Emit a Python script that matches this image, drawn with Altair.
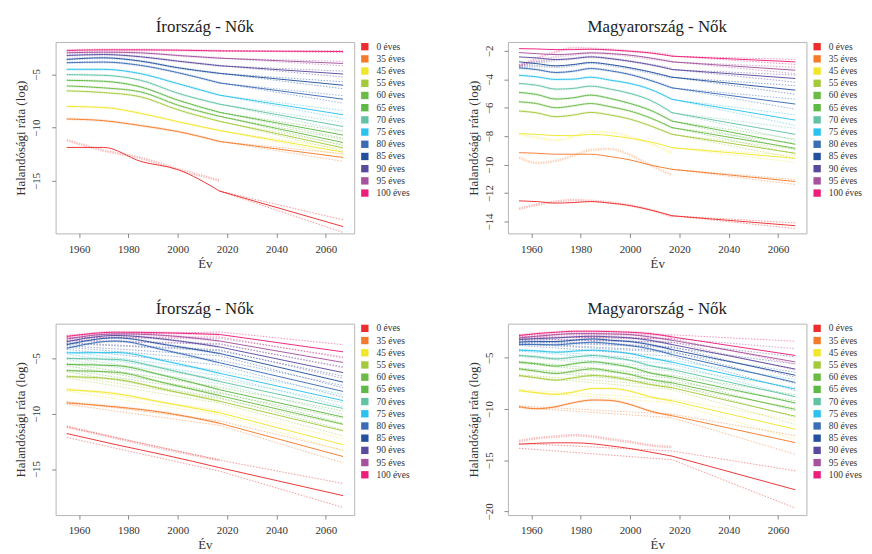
import altair as alt
import pandas as pd

AGES = ["0 éves", "35 éves", "45 éves", "55 éves", "60 éves", "65 éves", "70 éves",
        "75 éves", "80 éves", "85 éves", "90 éves", "95 éves", "100 éves"]
COLORS = ["#ED2D2E", "#F47B2B", "#F2E62B", "#A4CA3C", "#6DBB47", "#5FB946", "#62C3A4",
          "#2BC2EE", "#3B6CB5", "#23519E", "#5A4A9E", "#A5529F", "#EC1E79"]

X_DOMAIN = [1950.5, 2071.5]
X_TICKS = [1960, 1980, 2000, 2020, 2040, 2060]
SPLIT_YEAR = 2017

# ---------------- Panel 1: Írország - Nők (top) ----------------
P1_TITLE = "Írország - Nők"
P1_YDOMAIN = [-19.93, -1.96]
P1_YTICKS = [-15, -10, -5]
P1_YEARS = [1955, 1970, 1985, 2000, 2017, 2067]
P1_MAIN = [
    [-11.86, -11.86, -13.17, -13.94, -15.96, -19.29],
    [-9.19, -9.35, -9.81, -10.37, -11.30, -12.80],
    [-8.01, -8.11, -8.66, -9.44, -10.28, -12.30],
    [-6.55, -6.71, -7.11, -8.32, -9.41, -11.90],
    [-6.09, -6.27, -6.65, -7.89, -8.94, -11.40],
    [-5.56, -5.65, -6.18, -7.42, -8.57, -10.70],
    [-5.03, -5.09, -5.56, -6.77, -7.80, -9.90],
    [-4.53, -4.53, -4.94, -5.87, -6.96, -8.79],
    [-3.91, -3.85, -4.16, -4.84, -5.81, -7.33],
    [-3.60, -3.45, -3.76, -4.38, -4.91, -6.02],
    [-3.23, -3.14, -3.35, -3.76, -4.19, -4.97],
    [-2.98, -2.92, -2.98, -3.23, -3.48, -3.98],
    [-2.76, -2.70, -2.70, -2.73, -2.80, -2.86],
]
P1_OBS_YEARS = [1955, 1970, 1985, 2000, 2017]
P1_OBS = {"0 éves": [-11.18, -12.15, -12.85, -13.90, -14.97]}
P1_BAND_YEARS = [2017, 2067]
P1_HI = [[-15.96, -18.66], [-11.30, -12.45], [-10.28, -12.00], [-9.41, -11.60],
         [-8.94, -11.10], [-8.57, -10.35], [-7.80, -9.50], [-6.96, -8.40],
         [-5.81, -7.00], [-4.91, -5.70], [-4.19, -4.70], [-3.48, -3.78], [-2.80, -2.78]]
P1_LO = [[-15.96, -19.84], [-11.30, -13.17], [-10.28, -12.60], [-9.41, -12.20],
         [-8.94, -11.70], [-8.57, -11.00], [-7.80, -10.30], [-6.96, -9.15],
         [-5.81, -7.70], [-4.91, -6.35], [-4.19, -5.25], [-3.48, -4.20], [-2.80, -2.95]]

# ---------------- Panel 2: Magyarország - Nők (top) ----------------
P2_TITLE = "Magyarország - Nők"
P2_YDOMAIN = [-14.84, -1.37]
P2_YTICKS = [-14, -12, -10, -8, -6, -4, -2]
P2_YEARS = [1955, 1962, 1970, 1977, 1984, 1992, 2000, 2008, 2017, 2067]
P2_MAIN = [
    [-12.55, -12.60, -12.71, -12.67, -12.60, -12.71, -12.88, -13.18, -13.60, -14.30],
    [-9.16, -9.20, -9.27, -9.27, -9.27, -9.44, -9.67, -10.02, -10.33, -11.19],
    [-7.82, -7.87, -7.96, -7.96, -7.87, -7.96, -8.15, -8.39, -8.81, -9.56],
    [-6.23, -6.35, -6.63, -6.51, -6.33, -6.51, -6.80, -7.26, -7.87, -9.20],
    [-5.58, -5.70, -6.00, -5.86, -5.70, -5.93, -6.23, -6.70, -7.40, -8.85],
    [-4.92, -5.06, -5.39, -5.30, -5.11, -5.35, -5.70, -6.16, -6.94, -8.57],
    [-4.29, -4.41, -4.69, -4.64, -4.48, -4.69, -4.99, -5.46, -6.35, -7.87],
    [-3.71, -3.82, -4.01, -3.99, -3.85, -4.06, -4.29, -4.69, -5.41, -6.87],
    [-3.19, -3.31, -3.52, -3.43, -3.24, -3.40, -3.66, -4.06, -4.60, -5.74],
    [-2.77, -2.89, -3.05, -2.96, -2.82, -2.96, -3.19, -3.47, -3.85, -4.76],
    [-2.42, -2.49, -2.61, -2.54, -2.42, -2.54, -2.73, -2.96, -3.31, -3.94],
    [-2.12, -2.19, -2.26, -2.21, -2.14, -2.19, -2.30, -2.49, -2.77, -3.36],
    [-1.84, -1.86, -1.91, -1.91, -1.88, -1.93, -2.02, -2.14, -2.37, -2.77],
]
P2_OBS_YEARS = [1955, 1962, 1970, 1977, 1984, 1992, 2000, 2008, 2017]
P2_OBS = {
    "0 éves": [-13.11, -12.83, -12.60, -12.50, -12.55, -12.67, -12.88, -13.18, -13.65],
    "35 éves": [-9.49, -9.88, -9.74, -9.37, -8.97, -8.90, -9.32, -10.02, -10.73],
    "45 éves": [-7.82, -8.10, -8.27, -8.04, -7.68, -7.73, -8.04, -8.50, -9.20],
    "85 éves": [-3.12, -3.05, -3.12, -3.01, -2.84, -3.01, -3.24, -3.52, -3.89],
    "90 éves": [-3.01, -2.82, -2.65, -2.54, -2.42, -2.54, -2.73, -2.96, -3.24],
    "95 éves": [-3.01, -2.73, -2.42, -2.26, -2.14, -2.21, -2.35, -2.54, -2.73],
    "100 éves": [-3.08, -2.54, -2.07, -1.79, -1.84, -1.91, -2.02, -2.12, -2.30],
}
P2_BAND_YEARS = [2017, 2067]
P2_HI = [[-13.60, -14.10], [-10.33, -11.05], [-8.81, -9.35], [-7.87, -8.90],
         [-7.40, -8.50], [-6.94, -8.20], [-6.35, -7.45], [-5.41, -6.50],
         [-4.60, -5.40], [-3.85, -4.45], [-3.31, -3.70], [-2.77, -3.15], [-2.37, -2.60]]
P2_LO = [[-13.60, -14.50], [-10.33, -11.40], [-8.81, -9.85], [-7.87, -9.55],
         [-7.40, -9.25], [-6.94, -8.95], [-6.35, -8.30], [-5.41, -7.25],
         [-4.60, -6.10], [-3.85, -5.05], [-3.31, -4.20], [-2.77, -3.60], [-2.37, -2.95]]

# ---------------- Panel 3: Írország - Nők (bottom) ----------------
P3_TITLE = "Írország - Nők"
P3_YDOMAIN = [-19.17, -1.85]
P3_YTICKS = [-15, -10, -5]
P3_YEARS = [1955, 1975, 1995, 2017, 2067]
P3_MAIN = [
    [-11.79, -12.80, -13.75, -14.88, -17.41],
    [-9.02, -9.38, -9.91, -10.86, -13.87],
    [-7.83, -8.18, -9.02, -9.91, -12.80],
    [-6.64, -6.88, -7.83, -8.87, -11.55],
    [-6.10, -6.25, -7.23, -8.36, -10.95],
    [-5.54, -5.65, -6.58, -7.83, -10.30],
    [-5.00, -5.09, -5.95, -7.08, -9.52],
    [-4.49, -4.46, -5.24, -6.34, -8.81],
    [-4.08, -3.42, -4.26, -5.39, -7.98],
    [-3.75, -3.13, -3.75, -4.55, -7.14],
    [-3.48, -2.92, -3.27, -3.96, -6.28],
    [-3.24, -2.77, -2.92, -3.42, -5.36],
    [-3.01, -2.62, -2.68, -2.83, -4.40],
]
P3_OBS_YEARS = [1955, 1975, 1995, 2017]
P3_OBS = {"0 éves": [-11.16, -12.20, -13.20, -14.20]}
P3_BAND_YEARS = [1955, 2017, 2067]
P3_HI = [[-11.19, -14.20, -16.31], [-8.90, -10.65, -13.30], [-7.72, -9.70, -12.25],
         [-6.55, -8.65, -11.00], [-6.00, -8.15, -10.40], [-5.45, -7.60, -9.75],
         [-4.90, -6.85, -9.00], [-4.40, -6.10, -8.25], [-3.98, -5.15, -7.45],
         [-3.65, -4.30, -6.60], [-3.38, -3.72, -5.75], [-3.14, -3.18, -4.85],
         [-2.91, -2.60, -3.75]]
P3_LO = [[-12.14, -15.20, -18.48], [-9.15, -11.05, -14.45], [-7.95, -10.10, -13.35],
         [-6.75, -9.05, -12.00], [-6.20, -8.55, -11.45], [-5.65, -8.05, -10.85],
         [-5.10, -7.30, -10.05], [-4.60, -6.55, -9.35], [-4.18, -5.60, -8.50],
         [-3.85, -4.75, -7.65], [-3.58, -4.20, -6.80], [-3.34, -3.65, -5.85],
         [-3.11, -3.05, -4.95]]

# ---------------- Panel 4: Magyarország - Nők (bottom) ----------------
P4_TITLE = "Magyarország - Nők"
P4_YDOMAIN = [-20.36, -1.66]
P4_YTICKS = [-20, -15, -10, -5]
P4_YEARS = [1955, 1962, 1970, 1977, 1985, 1992, 2000, 2008, 2017, 2067]
P4_MAIN = [
    [-13.44, -13.35, -13.30, -13.30, -13.40, -13.60, -13.86, -14.20, -14.60, -17.89],
    [-9.77, -9.97, -9.77, -9.38, -9.12, -9.16, -9.55, -10.19, -10.65, -13.28],
    [-8.18, -8.41, -8.57, -8.34, -7.99, -7.99, -8.25, -8.80, -9.20, -11.98],
    [-6.72, -6.95, -7.18, -6.95, -6.72, -6.85, -7.18, -7.60, -7.92, -10.70],
    [-6.07, -6.30, -6.53, -6.30, -6.07, -6.30, -6.62, -7.11, -7.44, -10.03],
    [-5.42, -5.58, -5.81, -5.58, -5.39, -5.58, -5.91, -6.46, -6.85, -9.40],
    [-4.77, -4.90, -5.10, -4.94, -4.77, -4.94, -5.23, -5.75, -6.14, -8.80],
    [-4.25, -4.32, -4.45, -4.35, -4.25, -4.35, -4.58, -5.00, -5.42, -8.05],
    [-3.70, -3.70, -3.73, -3.60, -3.47, -3.60, -3.80, -4.12, -4.68, -7.40],
    [-3.47, -3.41, -3.41, -3.28, -3.15, -3.28, -3.41, -3.70, -4.19, -6.70],
    [-3.21, -3.12, -3.05, -2.95, -2.89, -2.95, -3.05, -3.28, -3.70, -6.10],
    [-3.05, -2.89, -2.73, -2.63, -2.63, -2.66, -2.73, -2.95, -3.28, -5.40],
    [-2.82, -2.63, -2.50, -2.40, -2.40, -2.43, -2.50, -2.63, -2.95, -4.77],
]
P4_OBS_YEARS = [1955, 1962, 1970, 1977, 1985, 1992, 2000, 2008, 2017]
P4_OBS = {"0 éves": [-13.12, -12.85, -12.69, -12.56, -12.69, -12.95, -13.21, -13.54, -13.70]}
P4_BAND_YEARS = [1955, 2017, 2067]
P4_HI = [[-13.35, -14.10, -16.04], [-9.70, -10.50, -12.60], [-8.10, -9.05, -11.10],
         [-6.65, -7.75, -9.90], [-6.00, -7.30, -9.20], [-5.35, -6.70, -8.60],
         [-4.70, -6.00, -7.90], [-4.18, -5.25, -7.10], [-3.63, -4.50, -6.40],
         [-3.40, -4.00, -5.60], [-3.14, -3.50, -4.90], [-2.98, -3.10, -4.10],
         [-2.75, -2.75, -3.38]]
P4_LO = [[-13.83, -14.95, -19.68], [-9.85, -10.85, -14.42], [-8.25, -9.40, -12.95],
         [-6.80, -8.10, -11.50], [-6.15, -7.60, -10.80], [-5.50, -7.00, -10.20],
         [-4.85, -6.30, -9.50], [-4.33, -5.60, -8.80], [-3.78, -4.85, -8.20],
         [-3.55, -4.35, -7.50], [-3.28, -3.90, -6.90], [-3.12, -3.45, -6.20],
         [-2.90, -3.15, -5.60]]

FONT = "Liberation Serif"


def make_panel(title, years, main, obs_years, obs, band_years, hi, lo, ydomain, yticks):
    main_rows = []
    for a, vals in zip(AGES, main):
        for yr, v in zip(years, vals):
            main_rows.append({"age": a, "year": yr, "value": v})
    main_df = pd.DataFrame(main_rows)
    hist_df = main_df[main_df["year"] <= SPLIT_YEAR]
    fc_df = main_df[main_df["year"] >= SPLIT_YEAR]

    obs_rows = []
    for a in AGES:
        if a in obs:
            for yr, v in zip(obs_years, obs[a]):
                obs_rows.append({"age": a, "year": yr, "value": v})
        else:
            sub = hist_df[hist_df["age"] == a]
            for yr, v in zip(sub["year"], sub["value"]):
                obs_rows.append({"age": a, "year": int(yr), "value": float(v)})
    obs_df = pd.DataFrame(obs_rows)

    band_rows = []
    for a, h, l in zip(AGES, hi, lo):
        for yr, v in zip(band_years, h):
            band_rows.append({"age": a, "year": yr, "value": v, "bound": "hi"})
        for yr, v in zip(band_years, l):
            band_rows.append({"age": a, "year": yr, "value": v, "bound": "lo"})
    band_df = pd.DataFrame(band_rows)

    cscale = alt.Scale(domain=AGES, range=COLORS)
    x = alt.X("year:Q", scale=alt.Scale(domain=X_DOMAIN, nice=False, zero=False),
              axis=alt.Axis(values=X_TICKS, format="d", title="Év",
                            labelFont=FONT, titleFont=FONT))
    y = alt.Y("value:Q", scale=alt.Scale(domain=ydomain, nice=False, zero=False),
              axis=alt.Axis(values=yticks, format="d", title="Halandósági ráta (log)",
                            labelFont=FONT, titleFont=FONT))
    col = alt.Color("age:N", scale=cscale, legend=None)

    obs_layer = alt.Chart(obs_df).mark_line(
        strokeWidth=2.6, opacity=0.3, strokeDash=[1.5, 1], interpolate="monotone"
    ).encode(x=x, y=y, color=col)
    band_layer = alt.Chart(band_df).mark_line(
        strokeWidth=0.9, opacity=0.55, strokeDash=[1.5, 1.5]
    ).encode(x=x, y=y, color=col, detail="bound:N")
    hist_layer = alt.Chart(hist_df).mark_line(
        strokeWidth=1.0, opacity=0.95, interpolate="monotone"
    ).encode(x=x, y=y, color=col)
    fc_layer = alt.Chart(fc_df).mark_line(
        strokeWidth=1.0, opacity=0.95
    ).encode(x=x, y=y, color=col)
    legend_layer = alt.Chart(main_df).transform_filter("datum.year < 0").mark_square(
        filled=True, size=55, opacity=1
    ).encode(
        x=x, y=y,
        color=alt.Color("age:N", scale=cscale, title=None,
                        legend=alt.Legend(orient="right", offset=6, padding=0,
                                          symbolType="square", symbolSize=55,
                                          symbolStrokeWidth=0, labelFontSize=9.5,
                                          labelFont=FONT, labelOffset=7, rowPadding=1.3,
                                          labelColor="#333333", labelLimit=120)),
    )
    return alt.layer(obs_layer, band_layer, hist_layer, fc_layer, legend_layer).resolve_legend(
        color="independent"
    ).properties(width=301, height=193, title=title)


p1 = make_panel(P1_TITLE, P1_YEARS, P1_MAIN, P1_OBS_YEARS, P1_OBS, P1_BAND_YEARS,
                P1_HI, P1_LO, P1_YDOMAIN, P1_YTICKS)
p2 = make_panel(P2_TITLE, P2_YEARS, P2_MAIN, P2_OBS_YEARS, P2_OBS, P2_BAND_YEARS,
                P2_HI, P2_LO, P2_YDOMAIN, P2_YTICKS)
p3 = make_panel(P3_TITLE, P3_YEARS, P3_MAIN, P3_OBS_YEARS, P3_OBS, P3_BAND_YEARS,
                P3_HI, P3_LO, P3_YDOMAIN, P3_YTICKS)
p4 = make_panel(P4_TITLE, P4_YEARS, P4_MAIN, P4_OBS_YEARS, P4_OBS, P4_BAND_YEARS,
                P4_HI, P4_LO, P4_YDOMAIN, P4_YTICKS)

chart = alt.concat(p1, p2, p3, p4, columns=2, spacing={"row": 28, "column": 55}).resolve_scale(
    x="independent", y="independent", color="independent"
).properties(
    padding={"left": 6, "top": 7, "right": 0, "bottom": 0}
).configure(
    font=FONT
).configure_view(
    stroke="#b5b5b5", strokeWidth=1
).configure_axis(
    domain=False, grid=False, tickColor="#888888", tickSize=4,
    labelFont=FONT, titleFont=FONT, labelFontSize=11, titleFontSize=13,
    titleFontWeight="normal", labelColor="#333333", titleColor="#333333"
).configure_axisX(
    labelPadding=6, titlePadding=3
).configure_axisY(
    labelAngle=270, labelAlign="center", labelBaseline="bottom",
    labelPadding=10, titlePadding=3
).configure_title(
    font=FONT, fontSize=17, fontWeight="normal", color="#222222", offset=6, anchor="middle"
)

chart.save("out.html", embed_options={"renderer": "svg", "actions": False})
